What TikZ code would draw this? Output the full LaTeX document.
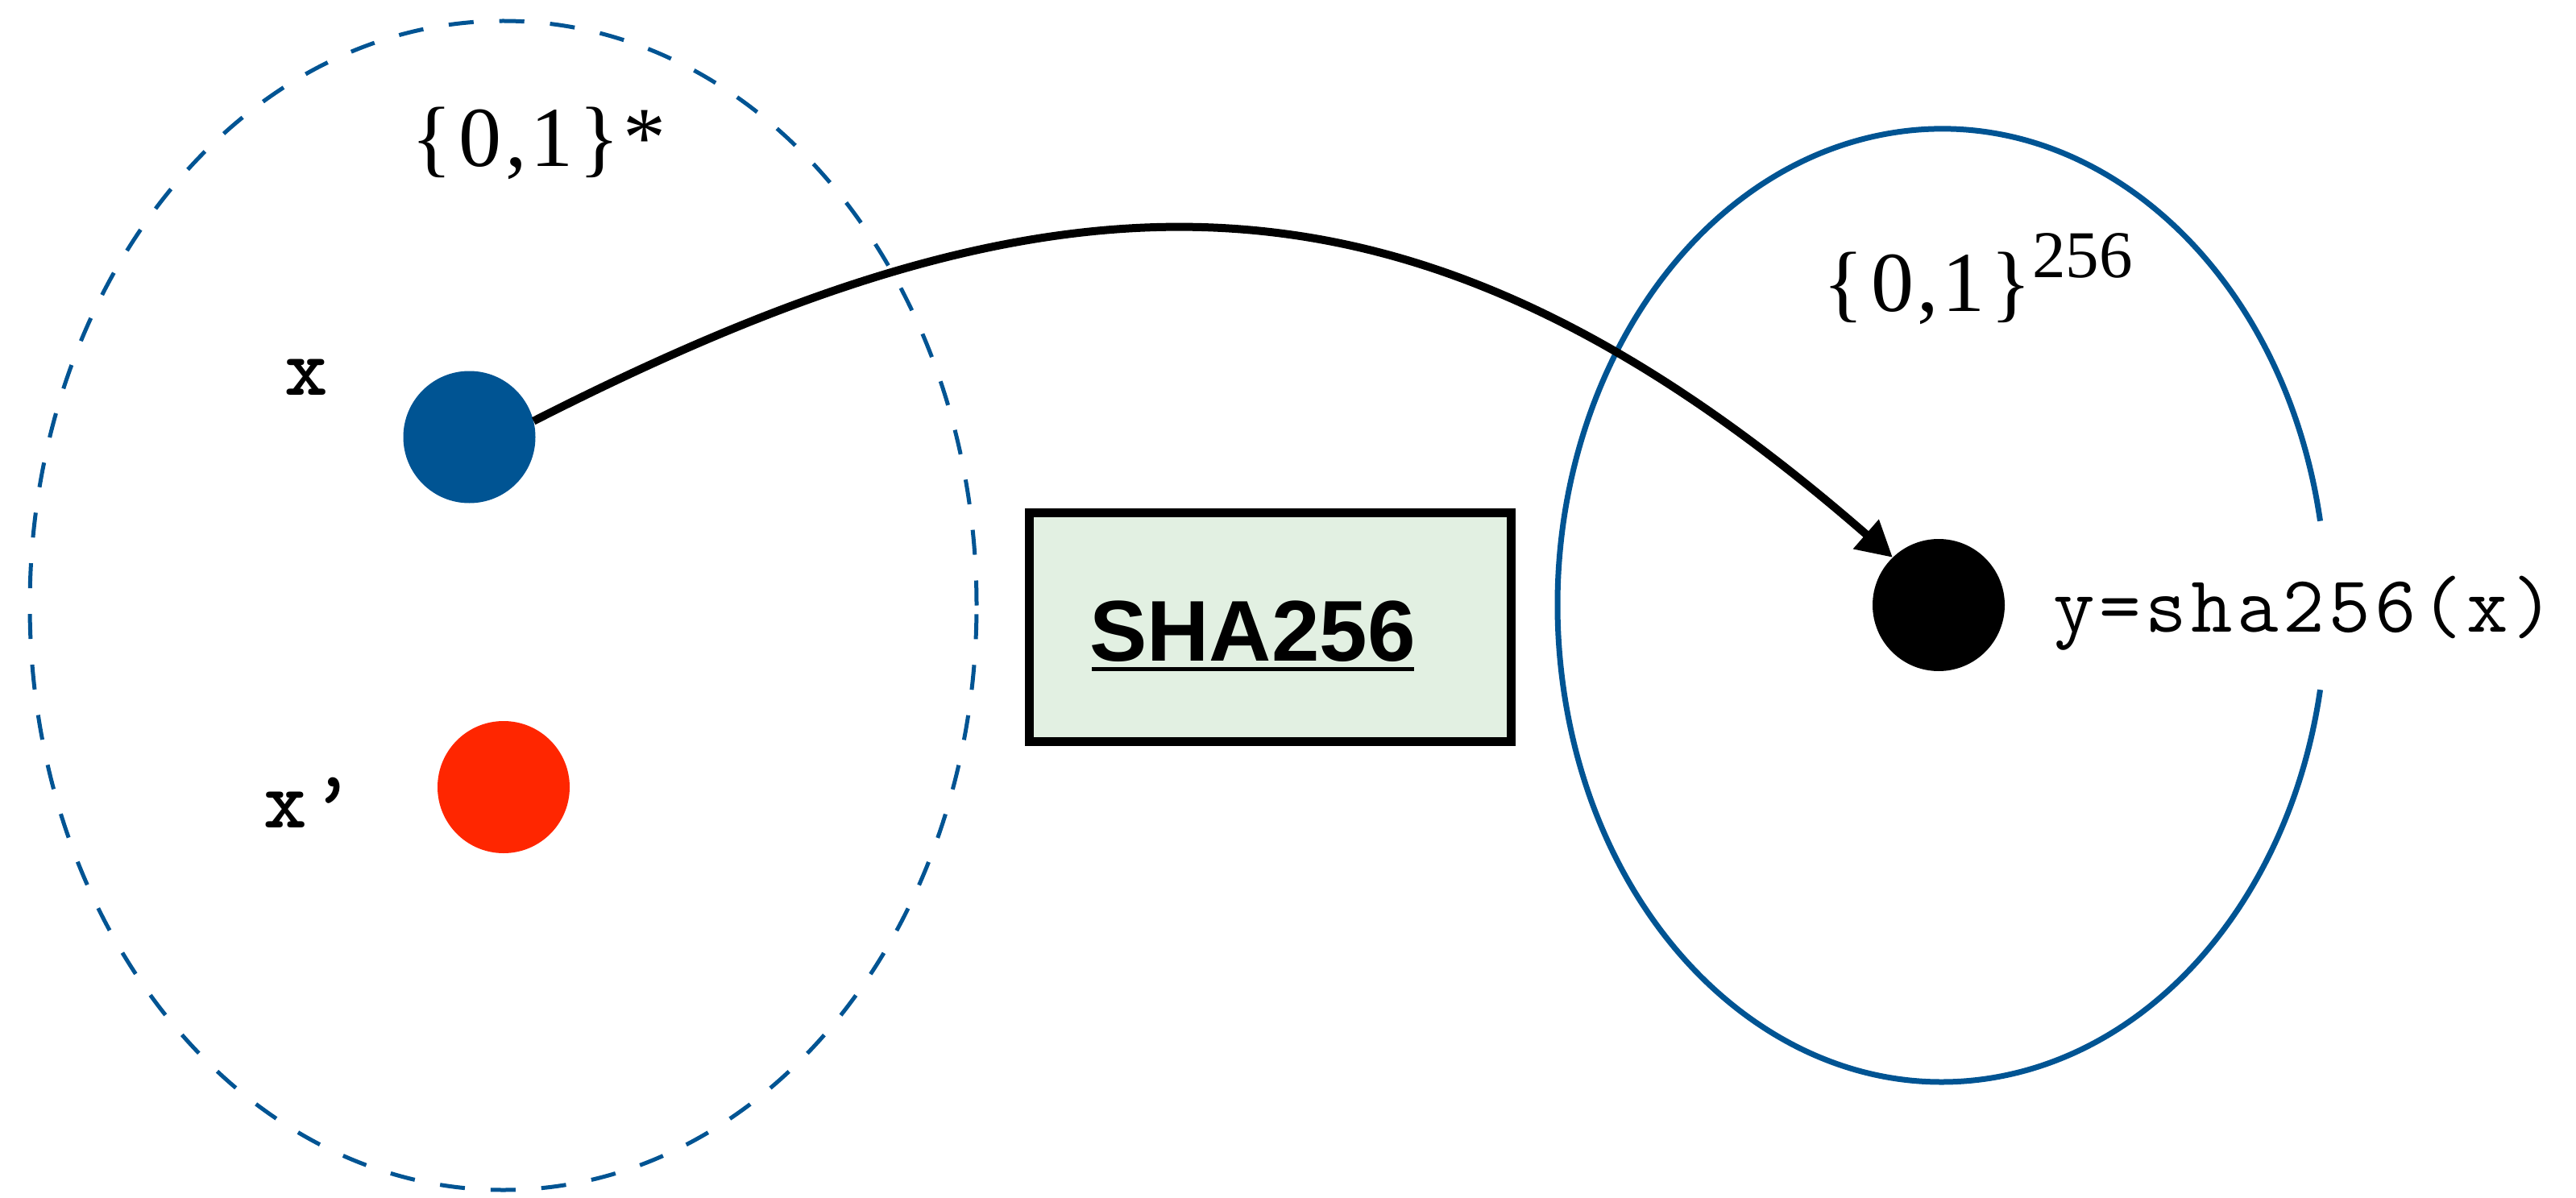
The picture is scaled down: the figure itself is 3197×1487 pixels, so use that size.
\documentclass[tikz,border=0pt]{standalone}
\usepackage{fontspec}
\setmainfont{Liberation Serif}
\newfontfamily\sansfont{Liberation Sans}
\usetikzlibrary{arrows.meta}
\definecolor{setblue}{RGB}{0,84,147}
\definecolor{dotred}{RGB}{255,38,0}
\definecolor{boxgreen}{RGB}{226,240,226}
\newcommand{\ck}{\kern5.5pt}
\tikzset{
  dotnode/.style={circle, minimum size=164pt, inner sep=0pt, draw=none},
  monolabel/.style={inner sep=0pt, font=\fontsize{102}{102}\ttfamily\bfseries},
  setlabel/.style={inner sep=0pt, font=\fontsize{106}{106}\selectfont},
  hashbox/.style={draw=black, line width=11pt, fill=boxgreen, minimum width=598pt, minimum height=284pt, inner sep=0pt},
  maparrow/.style={line width=10pt, -{Triangle[length=44pt,width=46pt]}},
  dashedset/.style={setblue, line width=5pt, dash pattern=on 31pt off 32pt},
  solidset/.style={setblue, line width=7pt}
}
\begin{document}
\begin{tikzpicture}[x=1pt,y=1pt]
\useasboundingbox (0,0) rectangle (3197,-1487);
\fill[white] (0,0) rectangle (3197,-1487);
% domain set (dashed)
\draw[dashedset] (624.5,-751.5) ellipse [x radius=587.5pt, y radius=725.5pt];
% codomain set (solid, open on the right)
\draw[solidset] (2879.5,-646.7) arc[start angle=10.2, end angle=349.8, x radius=477pt, y radius=591.5pt];
% hash box
\node[hashbox] (box) at (1576.5,-778) {};
\node[anchor=base west, inner sep=0pt, font=\fontsize{107}{107}\sansfont\bfseries] (shatext) at (1352,-820.6) {SHA256};
\draw[line width=5pt] ([xshift=3pt,yshift=-10pt]shatext.base west) -- ([xshift=-2pt,yshift=-10pt]shatext.base east);
% dots
\node[dotnode, fill=setblue] (xdot) at (582.5,-542.5) {};
\node[dotnode, fill=dotred] (xpdot) at (625,-977) {};
\node[dotnode, fill=black] (ydot) at (2406,-751) {};
% labels
\node[monolabel, anchor=base] (xlab) at (380.5,-490) {x};
\node[monolabel, anchor=base west] (xplab) at (327.5,-1027) {x\kern5pt’};
\node[inner sep=0pt, anchor=base west, font=\fontsize{100}{100}\ttfamily] (ylab) at (2548,-784) {y\ck=\ck s\ck h\ck a\ck 2\ck 5\ck 6\ck(\ck x\ck)};
\node[setlabel, anchor=base west] (domlab) at (510,-207) {\{\kern9pt0\kern4pt,\kern5pt1\kern7pt\}\kern4pt*};
\node[setlabel, anchor=base west] (codlab) at (2262,-387) {\{\kern9pt0\kern4pt,\kern5pt1\kern7pt\}\kern1pt\raisebox{42pt}{\fontsize{83}{83}\selectfont 256}};
% mapping arrow
\draw[maparrow] (xdot.14) .. controls (1313,-191.5) and (1748,-168) .. (ydot.134);
\end{tikzpicture}
\end{document}
